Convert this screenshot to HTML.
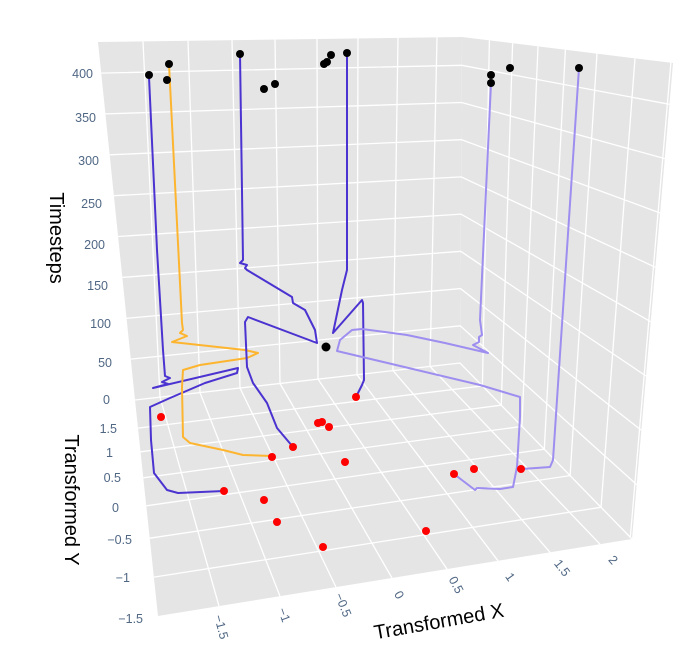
<!DOCTYPE html>
<html><head><meta charset="utf-8"><style>
html,body{margin:0;padding:0;background:#fff;}
svg{display:block;font-family:"Liberation Sans",sans-serif;}
</style></head><body>
<svg width="699" height="670" viewBox="0 0 699 670" xmlns="http://www.w3.org/2000/svg">
<rect width="699" height="670" fill="#fff"/>
<polygon points="98,42 462,37 460,363 135,400" fill="#e5e5e5"/>
<polygon points="462,37 673,63 632,539 460,363" fill="#e5e5e5"/>
<polygon points="135,400 460,363 632,539 158,616" fill="#e5e5e5"/>
<g stroke="#fff" stroke-width="1.3" fill="none">
<line x1="143" y1="41.4" x2="160" y2="397.2"/>
<line x1="188" y1="40.8" x2="200" y2="392.6"/>
<line x1="232" y1="40.2" x2="240" y2="388.0"/>
<line x1="275" y1="39.6" x2="280" y2="383.5"/>
<line x1="317" y1="39.0" x2="318" y2="379.2"/>
<line x1="358" y1="38.4" x2="357" y2="374.7"/>
<line x1="398" y1="37.9" x2="393" y2="370.6"/>
<line x1="437" y1="37.3" x2="430" y2="366.4"/>
<polyline points="135,400 460,363 632,539"/>
<polyline points="130.8,359.1 460.2,325.8 636.7,484.6"/>
<polyline points="126.6,318.3 460.5,288.6 641.4,430.3"/>
<polyline points="122.3,277.4 460.7,251.3 646.0,376.0"/>
<polyline points="118.1,236.5 460.9,214.1 650.7,321.7"/>
<polyline points="113.9,195.7 461.1,176.9 655.4,267.3"/>
<polyline points="109.7,154.8 461.4,139.7 660.1,213.0"/>
<polyline points="105.4,113.9 461.6,102.5 664.8,158.6"/>
<polyline points="101.2,73.1 461.8,65.3 669.4,104.3"/>
<line x1="160" y1="397.2" x2="219" y2="606.1"/>
<line x1="200" y1="392.6" x2="280" y2="596.2"/>
<line x1="240" y1="388.0" x2="336" y2="587.1"/>
<line x1="280" y1="383.5" x2="392" y2="578.0"/>
<line x1="318" y1="379.2" x2="447" y2="569.1"/>
<line x1="357" y1="374.7" x2="498" y2="560.8"/>
<line x1="393" y1="370.6" x2="550" y2="552.3"/>
<line x1="430" y1="366.4" x2="600" y2="544.2"/>
<polyline points="138.0,428.1 482.4,385.9 489.4,40.4"/>
<polyline points="140.5,451.8 501.3,405.2 512.6,43.2"/>
<polyline points="143.3,477.8 521.9,426.4 538.0,46.4"/>
<polyline points="146.3,505.8 544.3,449.2 565.4,49.7"/>
<polyline points="149.7,538.2 570.1,475.6 597.0,53.6"/>
<polyline points="153.9,577.1 601.0,507.3 635.0,58.3"/>
<line x1="630.3" y1="537.2" x2="670.9" y2="62.7"/>
</g>
<g fill="none" stroke-width="2" stroke-linejoin="round">
<polyline stroke="#4a33d0" points="149,77 157,250 163,350 165,376 170,378 162,382 168,384 153,388 238,368 237,373 205,383 170,398 150,407 151,440 154,473 167,490 178,493 224,491"/>
<polyline stroke="#fdb530" points="169,64 182,323 183,330 180,333 187,336 172,342 245,350 258,353 247,358 200,365 183,370 182,387 183,437 190,443 223,450 243,455 272,456"/>
<polyline stroke="#4a33d0" points="240,54 243,260 240,263 247,265 245,268 247,270 292,297 293,303 305,310 315,330 317,343 248,317 245,322 247,367 253,383 267,403 277,428 293,447"/>
<polyline stroke="#4a33d0" points="347,53 347,270 342,290 333,333 362,300 363,303 364,380 362,385 356,397"/>
<polyline stroke="#9d8ef0" points="491,83 480,320 482,335 479,337 479,342 473,345 488,353 445,343 407,335 385,332 362,329 352,330 340,340 337,351 480,385 520,397 520,417 517,467 513,487 500,489 477,488 475,490 454,474"/>
<polyline stroke="#9d8ef0" points="579,68 553,460 550,467 522,469"/>
</g>
<g fill="#000">
<circle cx="149" cy="75" r="4"/><circle cx="169" cy="64" r="4"/><circle cx="167" cy="80" r="4"/>
<circle cx="240" cy="54" r="4"/><circle cx="264" cy="89" r="4"/><circle cx="275" cy="84" r="4"/>
<circle cx="324" cy="64" r="4"/><circle cx="327" cy="62" r="4"/><circle cx="331" cy="55" r="4"/>
<circle cx="347" cy="53" r="4"/><circle cx="491" cy="75" r="4"/><circle cx="491" cy="83" r="4"/>
<circle cx="510" cy="68" r="4"/><circle cx="579" cy="68" r="4"/><circle cx="326" cy="347" r="4.5"/>
</g>
<g fill="#ff0000">
<circle cx="161" cy="417" r="4"/><circle cx="356" cy="397" r="4"/><circle cx="318" cy="423" r="4"/>
<circle cx="322" cy="422" r="4"/><circle cx="329" cy="427" r="4"/><circle cx="293" cy="447" r="4"/>
<circle cx="272" cy="457" r="4"/><circle cx="345" cy="462" r="4"/><circle cx="224" cy="491" r="4"/>
<circle cx="264" cy="500" r="4"/><circle cx="277" cy="522" r="4"/><circle cx="323" cy="547" r="4"/>
<circle cx="426" cy="531" r="4"/><circle cx="454" cy="474" r="4"/><circle cx="474" cy="469" r="4"/>
<circle cx="521" cy="469" r="4"/>
</g>
<g fill="#506784" font-size="12.5" text-anchor="end">
<text x="93" y="78">400</text><text x="96" y="122">350</text><text x="99" y="165">300</text>
<text x="102" y="208">250</text><text x="105" y="249">200</text><text x="108" y="290">150</text>
<text x="111" y="328">100</text><text x="112" y="367">50</text><text x="110" y="404">0</text>
<text x="117" y="433">1.5</text><text x="113" y="457">1</text><text x="121" y="482">0.5</text>
<text x="119" y="512">0</text><text x="132" y="544">−0.5</text><text x="130" y="582">−1</text>
<text x="143" y="623">−1.5</text>
</g>
<g fill="#506784" font-size="12.5" text-anchor="middle">
<text transform="translate(221,627) rotate(75)" dy="4">−1.5</text>
<text transform="translate(284,615) rotate(70)" dy="4">−1</text>
<text transform="translate(343,605) rotate(68)" dy="4">−0.5</text>
<text transform="translate(399,595) rotate(60)" dy="4">0</text>
<text transform="translate(456,585) rotate(62)" dy="4">0.5</text>
<text transform="translate(510,577) rotate(55)" dy="4">1</text>
<text transform="translate(562,568) rotate(52)" dy="4">1.5</text>
<text transform="translate(613,560) rotate(48)" dy="4">2</text>
</g>
<g fill="#000" font-size="20" text-anchor="middle">
<text transform="translate(50,238) rotate(90)">Timesteps</text>
<text transform="translate(65,500) rotate(90)">Transformed Y</text>
<text transform="translate(440,628) rotate(-10)">Transformed X</text>
</g>
</svg>
</body></html>
